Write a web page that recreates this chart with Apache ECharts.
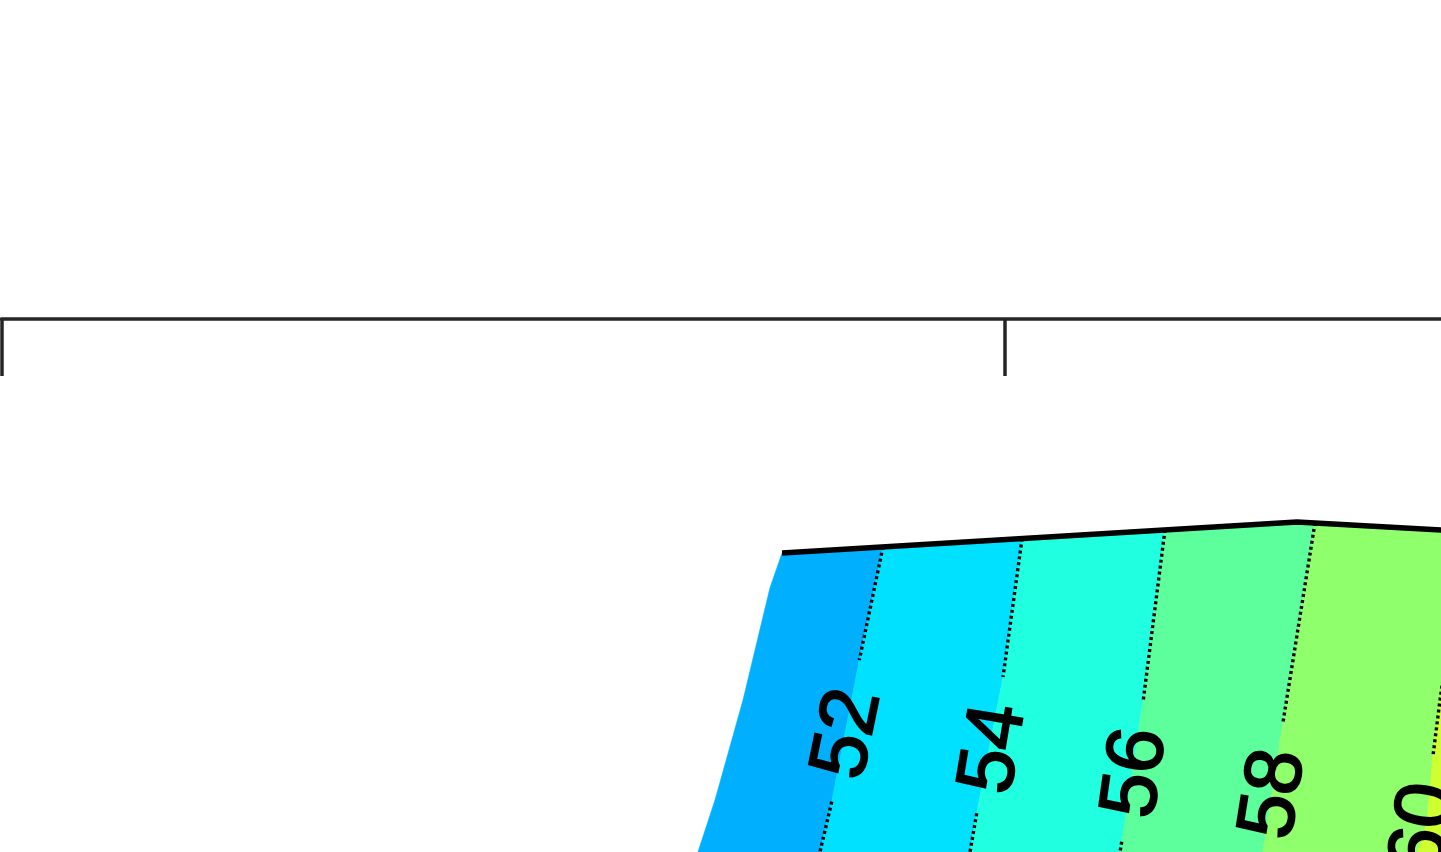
<!DOCTYPE html>
<html>
<head>
<meta charset="utf-8">
<script src="https://cdn.jsdelivr.net/npm/echarts@6/dist/echarts.min.js"></script>
<style>
  html, body { margin: 0; padding: 0; background: #fff; }
  #chart { width: 1441px; height: 852px; }
</style>
</head>
<body>
<div id="chart"></div>
<script>
// contour levels and the filled band colours (left to right)
const levels = [52, 54, 56, 58, 60];
const bandColors = ['#00b0ff', '#00e0ff', '#20ffdf', '#5cff9c', '#90ff6c', '#d0ff30'];

// map units: x 0..14.35, y 0..5.31
const xTicks = [0, 10];
const border = [[7.781, 2.980], [12.913, 3.289], [14.936, 3.176]];
const leftEdge = [[7.781, 2.980], [7.660, 2.630], [7.392, 1.515], [7.113, 0.518], [6.943, 0]];
const rightEdge = [[14.936, 3.176], [14.936, 0]];

// contour lines, split at the label: part above it, part below it
const upper52 = [[8.787, 3.041], [8.551, 1.913]];
const lower52 = [[8.276, 0.501], [8.159, 0]];
const upper54 = [[10.173, 3.124], [9.983, 1.744]];
const lower54 = [[9.721, 0.386], [9.654, 0]];
const upper56 = [[11.597, 3.210], [11.381, 1.515]];
const lower56 = [[11.166, 0.103], [11.149, 0]];
const upper58 = [[13.092, 3.279], [12.774, 1.296]];
const lower58 = [[12.574, 0]];
const upper60 = [[14.587, 3.195], [14.338, 1.515], [14.268, 0.957]];
const lower60 = [[14.209, 0.289], [14.119, 0]];
const lowerShown = [true, true, true, false, false];

const labelPos = [[8.448, 1.176], [9.903, 1.027], [11.318, 0.787], [12.694, 0.578], [14.189, 0.239]];

const upperRuns = [upper52, upper54, upper56, upper58, upper60];
const lowerRuns = [lower52, lower54, lower56, lower58, lower60];
const contours = upperRuns.map((u, i) => u.concat(lowerRuns[i]));
const edges = [leftEdge].concat(contours, [rightEdge]);

// polygon of band i: left edge down, along bottom, right edge up, border on top
function bandPolygon(i) {
    const L = edges[i], R = edges[i + 1];
    const top = border.filter(p => p[0] > L[0][0] && p[0] < R[0][0]);
    return [L[0]].concat(top, R, L.slice(1).reverse());
}

const chart = echarts.init(document.getElementById('chart'));

const dotted = { stroke: '#000', lineWidth: 3.4, lineDash: [3, 3], fill: null };

chart.setOption({
    backgroundColor: '#fff',
    animation: false,
    grid: { left: 1.3, right: 0, top: 319, bottom: 0 },
    xAxis: {
        type: 'value',
        position: 'top',
        min: 0,
        max: 14.348,
        axisLine: { show: true, onZero: false, lineStyle: { color: '#262626', width: 3.5 } },
        axisTick: { show: true, inside: true, length: 57, customValues: xTicks, lineStyle: { color: '#262626', width: 3.5 } },
        axisLabel: { show: false },
        splitLine: { show: false }
    },
    yAxis: { type: 'value', min: 0, max: 5.312, show: false },
    series: [
        {
            // filled bands
            type: 'custom',
            silent: true,
            data: bandColors.map((c, i) => edges[i][0]),
            renderItem: (params, api) => {
                const i = params.dataIndex;
                return {
                    type: 'polygon',
                    shape: { points: bandPolygon(i).map(p => api.coord(p)) },
                    style: { fill: bandColors[i], stroke: bandColors[i], lineWidth: 0.6 }
                };
            }
        },
        {
            // dotted contour lines + labels
            type: 'custom',
            silent: true,
            data: labelPos,
            renderItem: (params, api) => {
                const i = params.dataIndex;
                const children = [{
                    type: 'polyline',
                    shape: { points: upperRuns[i].map(p => api.coord(p)) },
                    style: dotted
                }];
                if (lowerShown[i]) {
                    children.push({
                        type: 'polyline',
                        shape: { points: lowerRuns[i].map(p => api.coord(p)) },
                        style: dotted
                    });
                }
                const line = contours[i];
                const a = api.coord(line[0]);
                const b = api.coord(line[line.length - 1]);
                const c = api.coord(labelPos[i]);
                children.push({
                    type: 'text',
                    x: c[0],
                    y: c[1],
                    rotation: Math.atan2(b[1] - a[1], a[0] - b[0]),
                    style: {
                        text: String(levels[i]),
                        fontSize: 80,
                        fontFamily: '"Liberation Sans", Arial, sans-serif',
                        fill: '#000',
                        stroke: '#000',
                        lineWidth: 2,
                        align: 'center',
                        verticalAlign: 'middle'
                    }
                });
                return { type: 'group', children: children };
            }
        },
        {
            // domain border
            type: 'line',
            silent: true,
            data: border,
            symbol: 'none',
            lineStyle: { color: '#000', width: 5.5 }
        }
    ]
});
</script>
</body>
</html>
